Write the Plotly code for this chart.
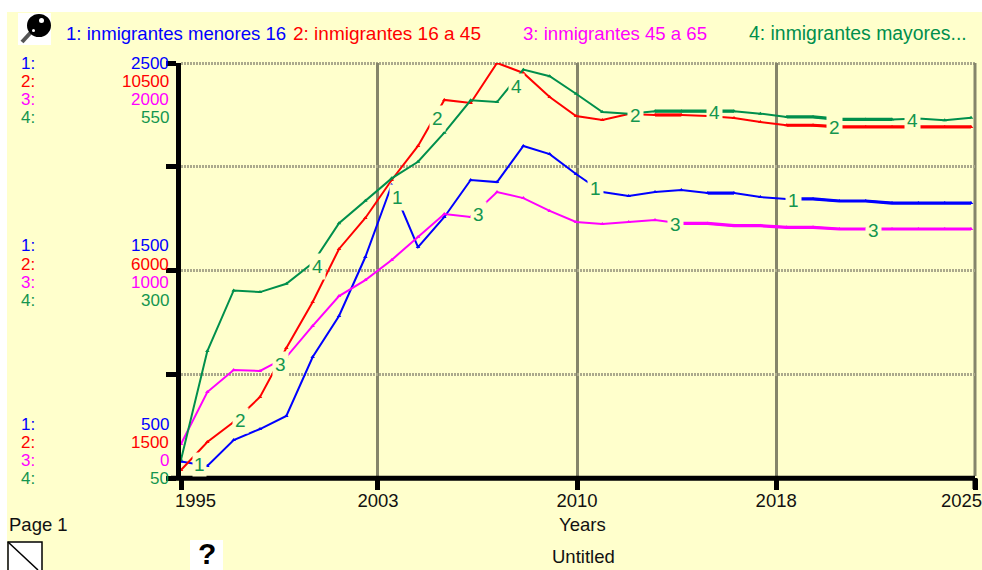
import plotly.graph_objects as go

years = list(range(1995, 2026))
menores_16 = [579, 558, 683, 736, 799, 1083, 1281, 1565, 1912, 1613, 1758, 1936, 1926, 2100, 2061, 1965,
              1878, 1859, 1878, 1888, 1873, 1873, 1854, 1845, 1845, 1835, 1835, 1825, 1825, 1825, 1825]
de_16_a_45 = [1674, 2281, 2715, 3257, 4320, 5317, 6467, 7139, 7963, 8701, 9699, 9634, 10500, 10284, 9764, 9352,
              9265, 9395, 9373, 9373, 9352, 9308, 9222, 9150, 9150, 9113, 9113, 9113, 9113, 9113, 9113]
de_45_a_65 = [164, 414, 520, 516, 583, 733, 877, 954, 1051, 1161, 1272, 1258, 1378, 1349, 1287, 1234,
              1224, 1234, 1243, 1227, 1227, 1216, 1216, 1208, 1208, 1200, 1200, 1200, 1200, 1200, 1200]
mayores_65 = [72, 203, 276, 274, 284, 309, 357, 384, 411, 431, 466, 505, 503, 542, 534, 513,
              491, 489, 492, 492, 492, 492, 489, 485, 485, 482, 482, 482, 483, 481, 484]

series_names = ["1: inmigrantes menores 16", "2: inmigrantes 16 a 45", "3: inmigrantes 45 a 65", "4: inmigrantes mayores..."]
series_colors = ["#0000FF", "#FF0000", "#FF00FF", "#008F4C"]
series_values = [menores_16, de_16_a_45, de_45_a_65, mayores_65]
series_ranges = [[500, 2500], [1500, 10500], [0, 2000], [50, 550]]
x_range = [1995, 2025.15]
x_grid_vals = [1995, 2002.48, 2010.04, 2017.6, 2025.15]
x_tick_text = ["", "2003", "2010", "2018", ""]
x_end_labels = ["1995", "2025"]
scale_top = ["2500", "10500", "2000", "550"]
scale_mid = ["1500", "6000", "1000", "300"]
scale_low = ["500", "1500", "0", "50"]

BG = "#FFFFCC"
FONT = "Liberation Sans"
LABEL_GREEN = "#14964F"
GRID_V = "#85856B"
GRID_H = "#ABA98C"
W, H = 982, 570
L, R, T, B = 181, 975, 63, 478


def px(x):
    return (x - L) / (R - L)


def py(y):
    return (B - y) / (B - T)


fig = go.Figure()
axis_names = ["y", "y2", "y3", "y4"]
for name, color, vals, ax in zip(series_names, series_colors, series_values, axis_names):
    fig.add_trace(go.Scatter(x=years, y=vals, mode="lines+markers", name=name, yaxis=ax,
                             line=dict(color=color, width=2),
                             marker=dict(color=color, size=4, symbol="triangle-up"),
                             showlegend=False, hoverinfo="x+y"))
    flat = [v if (i > 0 and vals[i - 1] == v) or (i < len(vals) - 1 and vals[i + 1] == v) else None
            for i, v in enumerate(vals)]
    fig.add_trace(go.Scatter(x=years, y=flat, mode="lines", yaxis=ax, connectgaps=False,
                             line=dict(color=color, width=3.2), showlegend=False, hoverinfo="skip"))

ann = []


def text(x, y, s, color="#111111", size=18.5, anchor="left", bg=None, pad=0):
    d = dict(x=px(x), y=py(y), xref="paper", yref="paper", text=s, showarrow=False,
             xanchor=anchor, yanchor="middle", font=dict(family=FONT, size=size, color=color), borderpad=pad)
    if bg:
        d["bgcolor"] = bg
    ann.append(d)


# header legend
for s, c, x, fs in zip(series_names, series_colors, [65, 292, 522, 748], [18.6, 19, 18.6, 19.4]):
    text(x, 33, s, c, size=fs)

# left scale groups
for group, y0 in zip([scale_top, scale_mid, scale_low], [63, 246, 424]):
    for i, (s, c) in enumerate(zip(group, series_colors)):
        y = y0 + i * 18
        col = LABEL_GREEN if i == 3 else c
        text(20, y, f"{i + 1}:", col, size=17)
        text(170, y, s, col, size=17, anchor="right")

# curve numbers
curve_labels = {
    "1": [(199, 464), (397, 197), (595, 188), (793, 200)],
    "2": [(240, 420), (437, 118), (635, 116), (834, 127)],
    "3": [(280, 364), (478, 214), (675, 224), (873, 230)],
    "4": [(317, 266), (516, 86), (714, 112), (912, 120)],
}
for s, pts in curve_labels.items():
    for x, y in pts:
        text(x, y, s, LABEL_GREEN, size=19, anchor="center", bg=BG, pad=1 if y > 450 else 2)

text(195, 500, x_end_labels[0], anchor="center")
text(961, 500, x_end_labels[1], anchor="center")
text(8, 524, "Page 1")
text(582, 524, "Years", anchor="center")
text(583, 556, "Untitled", anchor="center")
text(207, 553, "<b>?</b>", "#000000", size=30, anchor="center")

shapes = [
    # white margins
    dict(type="rect", xref="paper", yref="paper", x0=px(0), x1=px(W), y0=py(0), y1=py(12),
         fillcolor="white", line_width=0, layer="below"),
    dict(type="rect", xref="paper", yref="paper", x0=px(0), x1=px(7), y0=py(0), y1=py(H),
         fillcolor="white", line_width=0, layer="below"),
    # magnifier icon
    dict(type="rect", xref="paper", yref="paper", x0=px(18), x1=px(51), y0=py(13), y1=py(45),
         fillcolor="white", line_width=0, layer="below"),
    dict(type="line", xref="paper", yref="paper", x0=px(22), x1=px(33), y0=py(42), y1=py(30),
         line=dict(color="#555555", width=4), layer="below"),
    dict(type="circle", xref="paper", yref="paper", x0=px(27), x1=px(51), y0=py(14), y1=py(37),
         fillcolor="#000000", line_width=0, layer="below"),
    dict(type="circle", xref="paper", yref="paper", x0=px(39), x1=px(44), y0=py(18), y1=py(23),
         fillcolor="#FFFFFF", line_width=0, layer="below"),
    dict(type="circle", xref="paper", yref="paper", x0=px(32), x1=px(35), y0=py(29), y1=py(32),
         fillcolor="#FFFFFF", line_width=0, layer="below"),
    # page corner icon
    dict(type="rect", xref="paper", yref="paper", x0=px(8), x1=px(42), y0=py(542), y1=py(572),
         fillcolor="white", line=dict(color="#000000", width=1.5), layer="below"),
    dict(type="line", xref="paper", yref="paper", x0=px(8), x1=px(38), y0=py(542), y1=py(570),
         line=dict(color="#000000", width=1.5), layer="below"),
    # help icon
    dict(type="rect", xref="paper", yref="paper", x0=px(190), x1=px(223), y0=py(540), y1=py(570),
         fillcolor="white", line_width=0, layer="below"),
    # top dotted grid line and last vertical grid line, which the axes leave out at their ends
    dict(type="line", xref="paper", yref="paper", x0=px(181), x1=px(975), y0=py(63.5), y1=py(63.5),
         line=dict(color=GRID_H, width=3, dash="2px,1px"), layer="below"),
    dict(type="line", xref="paper", yref="paper", x0=px(975), x1=px(975), y0=py(63), y1=py(476),
         line=dict(color=GRID_V, width=3), layer="below"),
    # bottom axis bar and the end tick
    dict(type="line", xref="paper", yref="paper", x0=px(171), x1=px(975), y0=py(478.3), y1=py(478.3),
         line=dict(color="#000000", width=5)),
    dict(type="line", xref="paper", yref="paper", x0=px(975), x1=px(975), y0=py(478), y1=py(489),
         line=dict(color="#000000", width=5)),
]

fig.update_layout(
    width=W, height=H,
    margin=dict(l=L, r=W - R, t=T, b=H - B, pad=0),
    paper_bgcolor=BG, plot_bgcolor=BG,
    font=dict(family=FONT, size=18, color="#111111"),
    showlegend=False, annotations=ann, shapes=shapes,
    xaxis=dict(range=x_range, tickmode="array", tickvals=x_grid_vals, ticktext=x_tick_text,
               showgrid=True, gridcolor=GRID_V, gridwidth=3,
               ticks="outside", ticklen=11, tickwidth=5, tickcolor="#000000",
               showline=False, zeroline=False, ticklabelstandoff=-5,
               tickfont=dict(family=FONT, size=18.5, color="#111111")),
    yaxis=dict(range=series_ranges[0], tickmode="array", tickvals=[500, 1000, 1500, 2000, 2500],
               showticklabels=False, showgrid=True, gridcolor=GRID_H, gridwidth=3, griddash="2px,1px",
               ticks="outside", ticklen=10, tickwidth=5, tickcolor="#000000",
               showline=True, linecolor="#000000", linewidth=5, zeroline=False),
    yaxis2=dict(range=series_ranges[1], overlaying="y", visible=False),
    yaxis3=dict(range=series_ranges[2], overlaying="y", visible=False),
    yaxis4=dict(range=series_ranges[3], overlaying="y", visible=False),
)

fig.write_html("out.html", config={"displayModeBar": False}, post_script="document.body.style.margin='0';document.body.style.overflow='hidden';")
